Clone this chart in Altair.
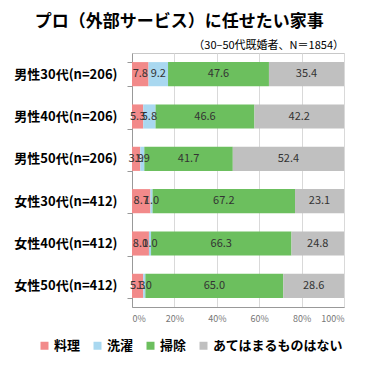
import altair as alt
import pandas as pd

groups = ["男性30代(n=206)", "男性40代(n=206)", "男性50代(n=206)",
          "女性30代(n=412)", "女性40代(n=412)", "女性50代(n=412)"]
categories = ["料理", "洗濯", "掃除", "あてはまるものはない"]
cooking = [7.8, 5.3, 3.9, 8.7, 8.0, 5.3]
laundry = [9.2, 5.8, 1.9, 1.0, 1.0, 1.0]
cleaning = [47.6, 46.6, 41.7, 67.2, 66.3, 65.0]
none_ = [35.4, 42.2, 52.4, 23.1, 24.8, 28.6]
colors = ["#F28A8A", "#A9D8F0", "#6CBF5E", "#C0C0C0"]
x_ticks = [0, 0.2, 0.4, 0.6, 0.8, 1.0]
title_text = "プロ（外部サービス）に任せたい家事"
subtitle_text = "（30‒50代既婚者、N＝1854）"

FONT = "Noto Sans CJK JP"

rows = []
series = [cooking, laundry, cleaning, none_]
for i, g in enumerate(groups):
    for j, c in enumerate(categories):
        rows.append({"group": g, "cat": c, "order": j, "value": series[j][i]})
df = pd.DataFrame(rows)

base = alt.Chart(df).transform_stack(
    stack="value", as_=["x0", "x1"], groupby=["group"],
    sort=[alt.SortField("order")], offset="normalize"
).transform_calculate(mid="(datum.x0 + datum.x1) / 2")

yenc = alt.Y(
    "group:N", sort=groups, title=None,
    scale=alt.Scale(paddingInner=0.43, paddingOuter=0.215),
    axis=alt.Axis(labelFontSize=13, labelFontWeight="bold", labelColor="#000",
                  labelFont=FONT, tickBand="extent", tickColor="#999",
                  tickSize=5, domainColor="#999", labelPadding=10, grid=False),
)

bars = base.mark_bar().encode(
    x=alt.X("x0:Q", scale=alt.Scale(domain=[0, 1]),
            axis=alt.Axis(format=".0%", values=x_ticks, grid=True,
                          gridColor="#d9d9d9", labelFontSize=9,
                          labelColor="#777", labelFont=FONT, tickSize=0,
                          labelPadding=7, title=None, domainColor="#999")),
    x2="x1:Q",
    y=yenc,
    color=alt.Color("cat:N", scale=alt.Scale(domain=categories, range=colors),
                    legend=alt.Legend(title=None, orient="none", direction="horizontal",
                                      legendX=-94, legendY=286,
                                      symbolType="square", symbolSize=64,
                                      symbolStrokeWidth=0, labelFontSize=13,
                                      labelFontWeight="bold", labelFont=FONT,
                                      labelColor="#000", columnPadding=10,
                                      labelOffset=3)),
    order=alt.Order("order:Q"),
)

texts = base.mark_text(fontSize=11, color="#333", font=FONT).encode(
    x="mid:Q",
    y=alt.Y("group:N", sort=groups),
    text=alt.Text("value:Q", format=".1f"),
)

sub = alt.Chart(pd.DataFrame({"t": [subtitle_text]})).mark_text(
    align="right", baseline="middle", fontSize=11, font=FONT, color="#000"
).encode(x=alt.value(212), y=alt.value(-7), text="t:N")

chart = alt.layer(bars, texts, sub).properties(
    width=212, height=254,
    title=alt.TitleParams(title_text, fontSize=17, fontWeight="bold", font=FONT,
                          anchor="middle", frame="bounds", offset=9, color="#000"),
).configure_view(stroke="#c8c8c8")

chart.save("out.html", embed_options={"renderer": "svg", "actions": False})
